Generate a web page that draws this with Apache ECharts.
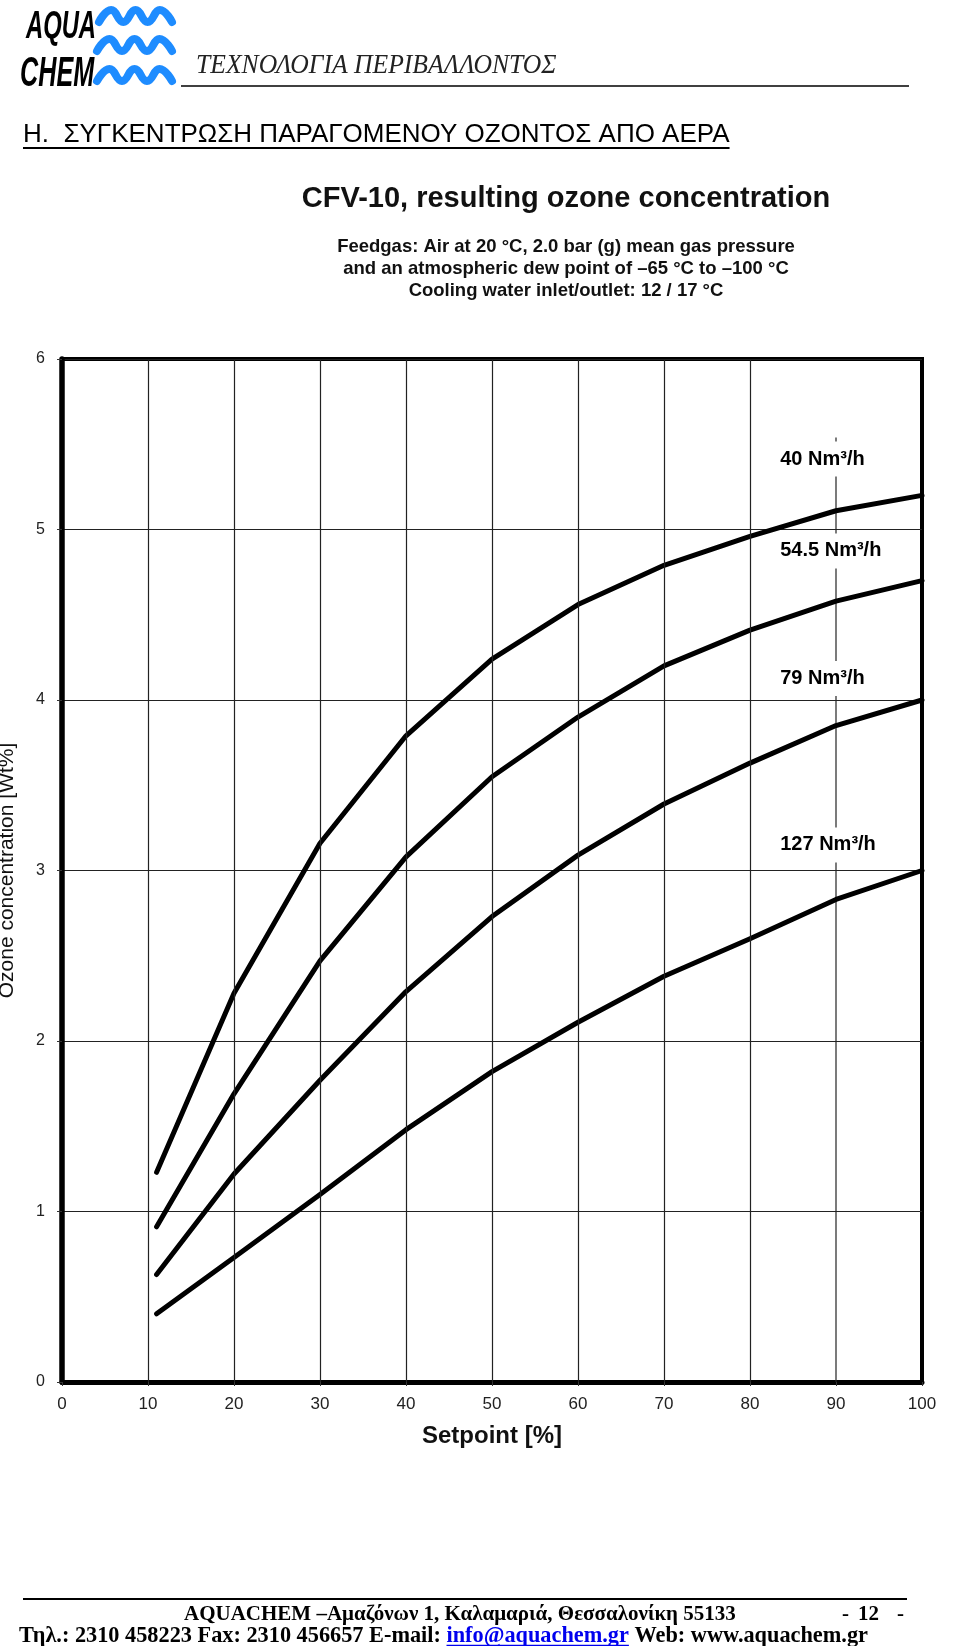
<!DOCTYPE html>
<html>
<head>
<meta charset="utf-8">
<script src="https://cdn.jsdelivr.net/npm/echarts@6/dist/echarts.min.js"></script>
<style>
html,body{margin:0;padding:0;background:#fff;}
#chart{width:960px;height:1646px;}
</style>
</head>
<body>
<div id="chart"></div>
<script>
// ---- data ----
const setpoints = [11, 20, 30, 40, 50, 60, 70, 80, 90, 100];
const conc40  = [1.23, 2.28, 3.16, 3.79, 4.24, 4.56, 4.79, 4.96, 5.11, 5.20];
const conc545 = [0.91, 1.69, 2.47, 3.08, 3.55, 3.90, 4.20, 4.41, 4.58, 4.70];
const conc79  = [0.63, 1.22, 1.77, 2.29, 2.73, 3.09, 3.39, 3.63, 3.85, 4.00];
const conc127 = [0.40, 0.73, 1.10, 1.48, 1.82, 2.11, 2.38, 2.60, 2.83, 3.00];
const flowNames = ['40 Nm³/h', '54.5 Nm³/h', '79 Nm³/h', '127 Nm³/h'];
const flowLabelY = [5.413, 4.874, 4.126, 3.150];
const flowLabelX = 83.4;
const gridLinesX = [10, 20, 30, 40, 50, 60, 70, 80];
const leaderX = 90;
const leaderTop = 5.54;

const titleText = 'CFV-10, resulting ozone concentration';
const subtitleLines = [
  'Feedgas: Air at 20 °C, 2.0 bar (g) mean gas pressure',
  'and an atmospheric dew point of –65 °C to –100 °C',
  'Cooling water inlet/outlet: 12 / 17 °C'
];
const xName = 'Setpoint [%]';
const yName = 'Ozone concentration [Wt%]';

const headerText = 'ΤΕΧΝΟΛΟΓΙΑ ΠΕΡΙΒΑΛΛΟΝΤΟΣ';
const headingText = 'Η.  ΣΥΓΚΕΝΤΡΩΣΗ ΠΑΡΑΓΟΜΕΝΟΥ ΟΖΟΝΤΟΣ ΑΠΟ ΑΕΡΑ';
const footer1 = 'AQUACHEM –Αμαζόνων 1, Καλαμαριά, Θεσσαλονίκη 55133';
const pageNoParts = ['-', '12', '-'];
const footer2a = 'Τηλ.: 2310 458223 Fax: 2310 456657 E-mail: ';
const footer2link = 'info@aquachem.gr';
const footer2b = ' Web: www.aquachem.gr';

// ---- helpers ----
const mctx = document.createElement('canvas').getContext('2d');
function tw(text, font){ mctx.font = font; return mctx.measureText(text).width; }

const chart = echarts.init(document.getElementById('chart'), null, {renderer:'canvas'});

const SANS = '"Liberation Sans", Arial, sans-serif';
const SERIF = '"Liberation Serif", "Times New Roman", serif';

function curve(name, vals){
  return {
    name: name, type: 'line', z: 3,
    data: setpoints.map((x, i) => [x, vals[i]]),
    symbol: 'none', smooth: false,
    lineStyle: {color: '#000', width: 5, cap: 'round', join: 'round'},
    silent: true
  };
}

function wave(x0, x1, yc, amp){
  const n = 6; const pts = [];
  for (let i = 0; i <= n; i++) {
    pts.push([x0 + (x1 - x0) * i / n, i % 2 === 0 ? yc + amp : yc - amp]);
  }
  return {type:'polyline', shape:{points: pts, smooth: 0.5},
          style:{stroke:'#1e8cff', lineWidth:8, fill:null, lineCap:'round'}};
}

function txt(x, y, text, font, fill, extra){
  const o = {type:'text', x:x, y:y, style:{text:text, font:font, fill:fill || '#000', textVerticalAlign:'middle', verticalAlign:'middle'}};
  if (extra) Object.assign(o, extra);
  return o;
}
function ctxt(x, y, text, font, fill){
  return {type:'text', x:x, y:y, style:{text:text, font:font, fill:fill || '#000', textAlign:'center', align:'center', textVerticalAlign:'middle', verticalAlign:'middle'}};
}

const f1font = 'bold 21px ' + SERIF;
const f2font = 'bold 22.3px ' + SERIF;
const f2x = 19;
const f2y = 1636;
const wA = tw(footer2a, f2font);
const wL = tw(footer2link, f2font);
const headFont = '26px ' + SANS;

const graphics = [
  // logo
  txt(26, 27, 'AQUA', 'italic bold 39px ' + SANS, '#000', {scaleX:0.61}),
  txt(20, 74, 'CHEM', 'italic bold 42px ' + SANS, '#000', {scaleX:0.6}),
  wave(99, 172, 16, 6),
  wave(97, 172, 45, 6),
  wave(97, 172, 75, 6),
  // header
  txt(196, 66, headerText, 'italic 28px ' + SERIF, '#222', {scaleX:0.915}),
  {type:'line', shape:{x1:181, y1:86, x2:909, y2:86}, style:{stroke:'#000', lineWidth:1.5}},
  txt(23, 135, headingText, headFont, '#000'),
  {type:'line', shape:{x1:23, y1:148, x2:23 + tw(headingText, headFont), y2:148}, style:{stroke:'#000', lineWidth:2}},
  // chart title
  ctxt(566, 199, titleText, 'bold 29px ' + SANS, '#111'),
  ctxt(566, 247, subtitleLines[0], 'bold 18.5px ' + SANS, '#111'),
  ctxt(566, 268.5, subtitleLines[1], 'bold 18.5px ' + SANS, '#111'),
  ctxt(566, 291, subtitleLines[2], 'bold 18.5px ' + SANS, '#111'),
  // footer
  {type:'line', shape:{x1:23, y1:1599, x2:907, y2:1599}, style:{stroke:'#000', lineWidth:2}},
  txt(184, 1615, footer1, f1font),
  txt(842, 1615, pageNoParts[0], f1font),
  txt(858, 1615, pageNoParts[1], f1font),
  txt(897, 1615, pageNoParts[2], f1font),
  txt(f2x, f2y, footer2a, f2font),
  txt(f2x + wA, f2y, footer2link, f2font, '#0000ee'),
  {type:'line', shape:{x1:f2x + wA, y1:f2y + 9.5, x2:f2x + wA + wL, y2:f2y + 9.5}, style:{stroke:'#0000ee', lineWidth:1.5}},
  txt(f2x + wA + wL, f2y, footer2b, f2font)
];

const option = {
  animation: false,
  backgroundColor: '#fff',
  textStyle: {fontFamily: SANS},
  grid: {left: 62, right: 38, top: 359, bottom: 264, show: true, borderColor: '#000', borderWidth: 4,
         backgroundColor: 'transparent', containLabel: false, outerBoundsMode: 'none'},
  xAxis: {
    type: 'value', min: 0, max: 100, interval: 10,
    axisLine: {show: true, onZero: false, lineStyle: {color: '#000', width: 5}},
    axisTick: {show: true, length: 4, lineStyle: {color: '#333', width: 1}},
    axisLabel: {fontSize: 17, color: '#222', margin: 14, fontFamily: SANS},
    splitLine: {show: false},
    name: xName, nameLocation: 'middle', nameGap: 42,
    nameTextStyle: {fontSize: 24, fontWeight: 'bold', color: '#111', fontFamily: SANS}
  },
  yAxis: {
    type: 'value', min: 0, max: 6, interval: 1,
    axisLine: {show: true, onZero: false, lineStyle: {color: '#000', width: 5.5}},
    axisTick: {show: true, length: 5, lineStyle: {color: '#333', width: 1}},
    axisLabel: {fontSize: 16, color: '#222', margin: 17, fontFamily: SANS},
    splitLine: {show: true, lineStyle: {color: '#222', width: 1.2}},
    name: yName, nameLocation: 'middle', nameGap: 44, nameRotate: 90,
    nameTextStyle: {fontSize: 21, color: '#111', fontFamily: SANS}
  },
  series: [
    {
      name: 'grid', type: 'line', z: 1, silent: true, symbol: 'none',
      data: [[leaderX, 0], [leaderX, leaderTop]],
      lineStyle: {color: '#222', width: 1.2},
      markLine: {
        silent: true, symbol: 'none', label: {show: false},
        lineStyle: {color: '#222', width: 1.2, type: 'solid'},
        data: gridLinesX.map(v => ({xAxis: v}))
      }
    },
    curve(flowNames[0], conc40),
    curve(flowNames[1], conc545),
    curve(flowNames[2], conc79),
    curve(flowNames[3], conc127),
    {
      name: 'labels', type: 'scatter', z: 5, silent: true,
      symbolSize: 0, itemStyle: {opacity: 1},
      data: flowLabelY.map((y, i) => ({value: [flowLabelX, y], name: flowNames[i]})),
      label: {
        show: true, position: 'right', distance: 0, opacity: 1,
        formatter: p => p.name,
        fontSize: 20, fontWeight: 'bold', color: '#000', fontFamily: SANS,
        backgroundColor: '#fff', padding: [9, 1, 4, 1], lineHeight: 22
      }
    }
  ],
  graphic: graphics
};
chart.setOption(option);
</script>
</body>
</html>
